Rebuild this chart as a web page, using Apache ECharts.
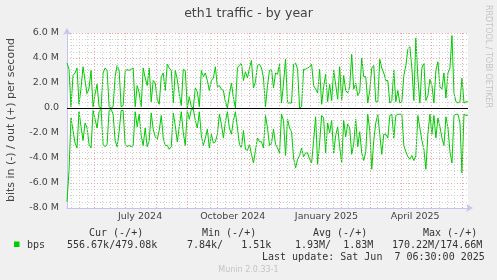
<!DOCTYPE html>
<html><head><meta charset="utf-8">
<script src="https://cdn.jsdelivr.net/npm/echarts@6/dist/echarts.min.js"></script>
<style>html,body{margin:0;padding:0;background:#f0f0f0}#c{width:497px;height:280px}</style>
</head><body><div id="c"></div>
<script>
// ---- data ----
const startDate = '2024-05-04T12:00:00Z';
const endDate = '2025-06-06T12:00:00Z';
const stepDays = 1.99;
// out (+) traffic, Mbit/s, one sample every stepDays
const outMbps = [
3.6,3.1,0.1,2.6,2.8,3.2,0.3,1.6,3.3,2.2,1.1,1.6,3.0,0.1,1.1,1.9,0.1,0.0,2.8,3.2,
3.0,0.1,0.0,0.1,2.5,3.4,3.0,0.1,0.2,2.9,3.1,3.0,3.1,3.2,0.1,1.8,1.2,0.1,3.2,2.4,
1.8,3.2,0.5,2.2,2.0,0.7,0.3,2.5,2.8,1.4,
3.5,3.2,3.0,0.4,3.0,2.3,1.1,0.2,3.1,3.0,0.0,0.9,0.1,0.0,1.6,1.3,0.1,3.0,2.5,2.8,
2.2,1.4,2.2,2.4,3.3,1.7,1.8,1.5,1.4,0.5,0.0,1.1,2.0,0.8,0.0,3.2,3.4,3.6,2.2,2.9,
2.4,3.2,3.8,1.6,2.1,3.4,3.5,3.2,2.4,0.1,
1.8,3.0,3.1,1.6,2.8,2.7,3.5,0.4,2.0,3.9,0.4,0.4,0.4,3.5,3.6,3.1,0.0,0.1,3.1,3.1,
3.2,3.3,3.5,1.8,1.5,1.2,3.1,0.3,1.7,2.7,0.5,1.9,0.6,3.0,1.9,0.7,3.3,0.6,2.6,1.4,
1.2,1.7,4.3,1.5,2.0,1.0,1.3,4.0,2.5,2.5,
0.4,1.4,3.2,3.4,0.5,0.5,3.9,3.2,2.8,2.2,2.2,0.4,0.6,3.0,0.5,1.4,0.4,0.5,2.6,3.4,
4.7,4.9,3.2,0.6,5.6,2.4,0.4,3.2,3.6,0.6,1.0,2.3,1.8,0.4,3.0,3.7,1.7,1.5,2.8,0.8,
2.8,3.2,5.8,1.2,0.5,0.4,0.5,2.4,0.4,0.5,0.48
];
// in (-) traffic, Mbit/s, drawn below zero
const inMbps = [
-7.5,-5.0,-0.8,-1.8,-2.8,-3.2,-0.3,-1.5,-2.6,-1.2,-1.6,-2.9,-3.2,-0.2,-0.9,-1.6,-0.3,-0.1,-2.9,-3.1,
-2.9,-0.2,-0.1,-0.5,-2.6,-3.1,-1.9,-0.2,-0.2,-2.9,-3.1,-3.0,-3.1,-3.0,-0.3,-1.5,-0.5,-2.2,-3.0,-1.6,
-3.1,-2.6,-0.4,-1.7,-2.3,-2.5,-1.8,-0.6,-2.4,-3.0,
-3.0,-3.3,-3.1,-0.4,-1.4,-2.7,-1.5,-0.3,-2.0,-3.0,-0.2,-0.9,-0.1,-0.1,-1.0,-1.6,-0.3,-2.2,-3.0,-2.4,
-1.7,-3.2,-2.1,-2.8,-2.7,-2.1,-0.5,-1.3,-2.4,-1.1,-0.3,-1.6,-2.1,-1.0,-0.3,-1.6,-2.9,-3.2,-1.8,-3.3,
-3.4,-2.9,-3.7,-4.4,-3.4,-2.4,-2.7,-2.7,-3.2,-0.6,
-1.6,-3.0,-2.8,-1.7,-2.9,-3.2,-3.6,-0.5,-1.0,-3.8,-0.9,-1.6,-1.9,-4.0,-4.8,-4.1,-3.8,-3.2,-3.9,-3.6,
-3.6,-4.1,-4.4,-2.6,-0.7,-4.5,-2.8,-0.6,-0.8,-3.6,-1.2,-2.0,-1.0,-3.6,-2.2,-1.5,-3.1,-4.4,-1.0,-2.3,
-1.3,-1.6,-3.7,-2.9,-0.9,-3.1,-1.9,-3.6,-4.2,-3.5,
-0.5,-1.8,-4.9,-2.6,-1.2,-0.5,-2.1,-3.7,-2.1,-2.1,-2.4,-0.6,-0.5,-2.4,-0.6,-0.5,-0.5,-0.5,-3.0,-3.5,
-3.9,-4.1,-3.8,-4.2,-3.8,-0.6,-1.6,-2.6,-3.3,-4.9,-2.1,-0.5,-2.1,-0.6,-2.4,-0.8,-1.5,-2.4,-3.0,-0.7,
-1.6,-3.5,-4.4,-0.6,-0.5,-0.5,-1.2,-5.2,-0.5,-0.6,-0.56
];
const yMin = -8, yMax = 6, yStep = 2;
const xLabelDates = ['2024-07-16T00:00:00Z','2024-10-16T00:00:00Z','2025-01-17T00:00:00Z','2025-04-15T00:00:00Z'];
const xLabelTexts = ['July 2024','October 2024','January 2025','April 2025'];
const legendHeaders = ['Cur (-/+)','Min (-/+)','Avg (-/+)','Max (-/+)'];
const legendValues = ['556.67k/479.08k','7.84k/   1.51k','1.93M/  1.83M','170.22M/174.66M'];
const seriesName = 'bps';
const titleText = 'eth1 traffic - by year';
const yAxisTitle = 'bits in (-) / out (+) per second';
const lastUpdate = 'Last update: Sat Jun  7 06:30:00 2025';
const footer = 'Munin 2.0.33-1';
const sideText = 'RRDTOOL / TOBI OETIKER';

// ---- build ----
const DAY = 86400000;
const t0 = Date.parse(startDate), t1 = Date.parse(endDate);
const outData = outMbps.map((v,i)=>[t0 + i*stepDays*DAY, v]);
const inData = inMbps.map((v,i)=>[t0 + i*stepDays*DAY, v]);
const labelTs = xLabelDates.map(d=>Date.parse(d));

const gridLines = [];
// month starts (major, red) and quarter-month (minor, gray)
for (let y=2024, m=4; ; m++) {
  if (m>11){m=0;y++;}
  const ms = Date.UTC(y,m,1), me = Date.UTC(y,m+1,1);
  if (ms>=t0 && ms<=t1) gridLines.push({xAxis: ms, lineStyle:{color:'#f2a3a3', type:[1,2], width:1}});
  for (let k=1;k<4;k++){
    const q = ms + (me-ms)*k/4;
    if (q>=t0 && q<=t1) gridLines.push({xAxis: q, lineStyle:{color:'#cfcfcf', type:[1,2], width:1}});
  }
  if (y===2025 && m===5) break;
}

const chart = echarts.init(document.getElementById('c'), null, {renderer:'canvas'});
const mono = '"DejaVu Sans Mono", monospace';
const sans = '"DejaVu Sans", sans-serif';
const txtColor = '#333';
const graphics = [
  {type:'text', x:248.5, y:13.5, style:{text:titleText, font:'12.5px '+sans, fill:'#444', textAlign:'center', textVerticalAlign:'middle'}},
  {type:'text', x:11, y:120, rotation:Math.PI/2, style:{text:yAxisTitle, font:'11px '+sans, fill:'#444', textAlign:'center', textVerticalAlign:'middle'}},
  {type:'text', x:488.5, y:56.5, rotation:-Math.PI/2, style:{text:sideText, font:'8px '+sans, fill:'#c4c4c4', textAlign:'center', textVerticalAlign:'middle'}},
  {type:'rect', shape:{x:14, y:241.5, width:5.5, height:5.5}, style:{fill:'#00cc00'}},
  {type:'text', x:27, y:245, style:{text:seriesName, font:'10px '+mono, fill:txtColor, textVerticalAlign:'middle'}},
  {type:'text', x:262, y:257.7, style:{text:lastUpdate, font:'10px '+mono, fill:txtColor, textVerticalAlign:'middle'}},
  {type:'text', x:248.5, y:269.5, style:{text:footer, font:'8px '+sans, fill:'#c4c4c4', textAlign:'center', textVerticalAlign:'middle'}}
];
const headerX = [89, 202, 313, 423];
const valueX = [67, 187, 295, 392];
legendHeaders.forEach((h,i)=>graphics.push({type:'text', x:headerX[i], y:233.7, style:{text:h, font:'10px '+mono, fill:txtColor, textVerticalAlign:'middle'}}));
legendValues.forEach((h,i)=>graphics.push({type:'text', x:valueX[i], y:245, style:{text:h, font:'10px '+mono, fill:txtColor, textVerticalAlign:'middle'}}));

chart.setOption({
  animation:false,
  backgroundColor:'#f0f0f0',
  grid:{left:67, right:29, top:33, bottom:72, show:true, backgroundColor:'#ffffff', borderWidth:0},
  xAxis:{
    type:'value', min:t0, max:t1,
    axisLine:{show:true, onZero:false, lineStyle:{color:'#c4c4ee', width:1}, symbol:['none','arrow'], symbolSize:[6,7], symbolOffset:[0,5]},
    axisTick:{show:false},
    splitLine:{show:false},
    axisLabel:{customValues:labelTs, margin:4, fontSize:9.5, fontFamily:sans, color:'#444',
      formatter:(v)=>{const i=labelTs.findIndex(t=>Math.abs(t-v)<60000); return i>=0?xLabelTexts[i]:'';}}
  },
  yAxis:{
    type:'value', min:yMin, max:yMax, interval:yStep,
    axisLine:{show:true, onZero:false, lineStyle:{color:'#c4c4ee', width:1}, symbol:['none','arrow'], symbolSize:[6,7], symbolOffset:[0,5]},
    axisTick:{show:false},
    axisLabel:{margin:8, fontSize:9.5, fontFamily:sans, color:'#444', formatter:(v)=> v===0 ? '0.0' : v.toFixed(1)+' M'},
    splitLine:{show:true, lineStyle:{color:'#f2a3a3', type:[1,2], width:1}},
    minorTick:{show:false, splitNumber:4},
    minorSplitLine:{show:true, lineStyle:{color:'#cfcfcf', type:[1,2], width:1}}
  },
  graphic:graphics,
  series:[
    {type:'line', name:'grid', data:[], z:1, silent:true,
     markLine:{silent:true, symbol:['none','none'], label:{show:false}, animation:false, data:gridLines}},
    {type:'line', name:'in', data:inData, showSymbol:false, z:2, lineStyle:{color:'#00cc00', width:1}, itemStyle:{color:'#00cc00'}},
    {type:'line', name:'out', data:outData, showSymbol:false, z:2, lineStyle:{color:'#00cc00', width:1}, itemStyle:{color:'#00cc00'}},
    {type:'line', name:'zero', data:[], z:3, silent:true,
     markLine:{silent:true, symbol:['none','none'], label:{show:false}, animation:false, data:[{yAxis:0, lineStyle:{color:'#000', type:'solid', width:1}}]}}
  ]
});
</script></body></html>
